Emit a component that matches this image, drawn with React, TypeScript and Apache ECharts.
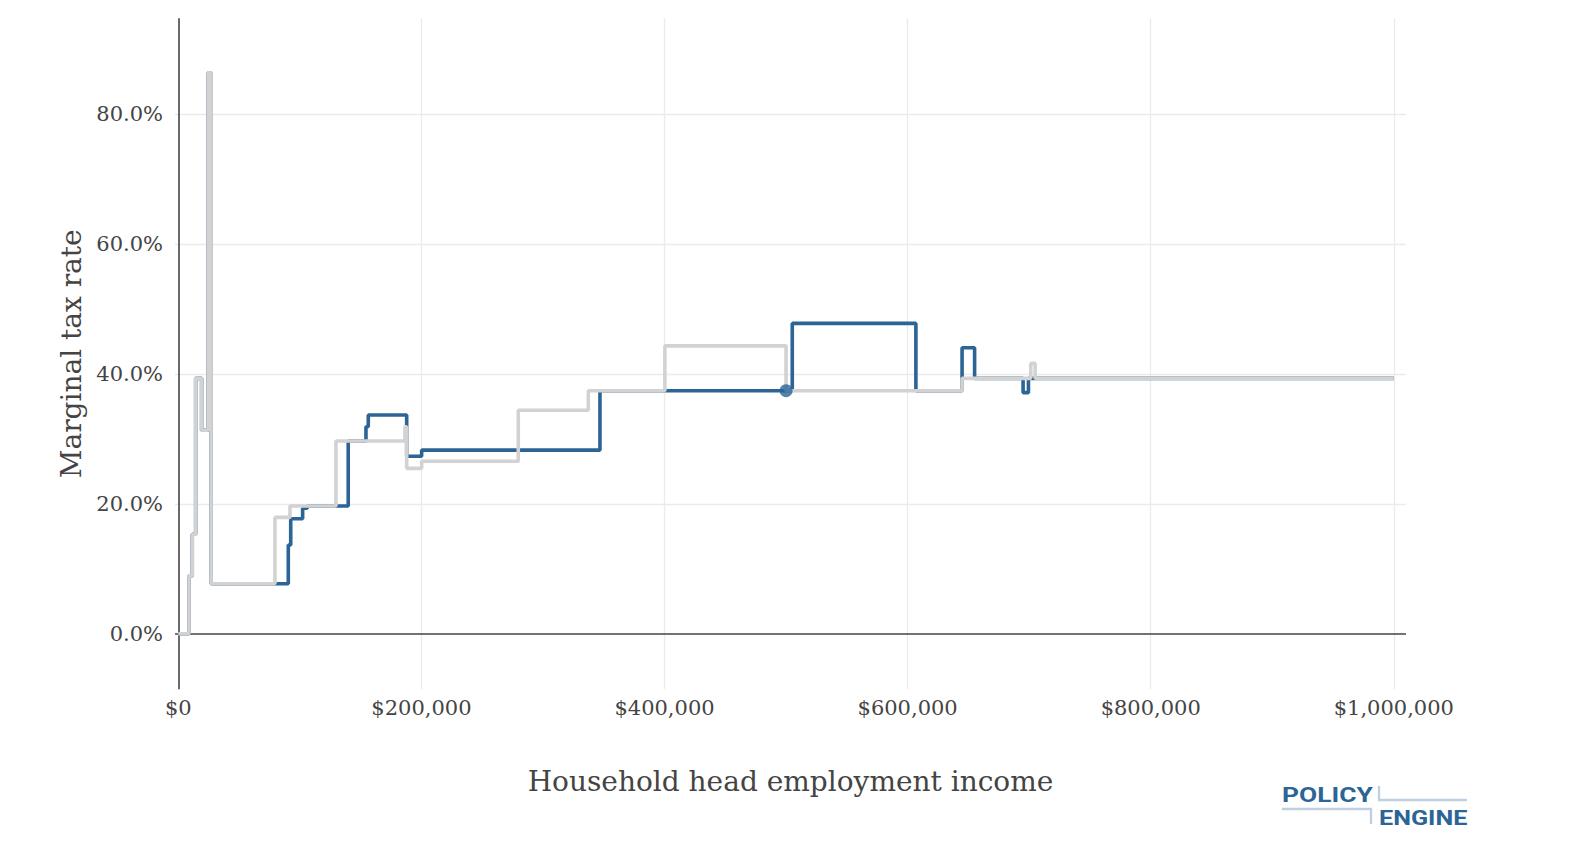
import React, { useEffect, useRef } from "react";
import * as echarts from "echarts";

// Household head employment income breakpoints ($) and marginal tax rate (%) from each breakpoint on
const grayIncome = [0, 8800, 11500, 14300, 19200, 24500, 27000, 79500, 91900, 129700, 186500, 187900, 200200, 279700, 337300, 400300, 500000, 644800, 701300, 704900, 1000000];
const grayRate = [0, 8.9, 15.3, 39.3, 31.3, 86.3, 7.7, 17.9, 19.65, 29.65, 31.85, 25.45, 26.55, 34.4, 37.4, 44.3, 37.4, 39.3, 41.6, 39.3, 39.3];

const blueIncome = [0, 8800, 11500, 14300, 19200, 24500, 27000, 90500, 92500, 102300, 106100, 139800, 154400, 156300, 187900, 200200, 346900, 505100, 606800, 644800, 655100, 695000, 699400, 1000000];
const blueRate = [0, 8.9, 15.3, 39.3, 31.3, 86.3, 7.7, 13.65, 17.7, 19.3, 19.65, 29.65, 31.85, 33.65, 27.3, 28.25, 37.4, 47.75, 37.4, 44.0, 39.3, 37.1, 39.3, 39.3];

const markerIncome = [500000];
const markerRate = [37.4];

const xGridTicks = [200000, 400000, 600000, 800000, 1000000];
const yGridTicks = [20, 40, 60, 80];

const FONT = "'DejaVu Serif', serif";
const BLUE = "#2C6496";
const GRAY = "#D2D2D2";

export default function App() {
  const ref = useRef<HTMLDivElement>(null);

  useEffect(() => {
    if (!ref.current) return;
    const chart = echarts.init(ref.current, null, { renderer: "svg" });
    const pairs = (xs: number[], ys: number[]) => xs.map((x, i) => [x, ys[i]]);

    chart.setOption({
      animation: false,
      backgroundColor: "#ffffff",
      grid: { left: 175, right: 184, top: 18.3, bottom: 164.7, containLabel: false },
      xAxis: {
        type: "value",
        min: -2700,
        max: 1010000,
        splitNumber: 5,
        axisLine: { show: false },
        axisTick: { show: false },
        splitLine: { show: false },
        axisLabel: {
          showMinLabel: false,
          showMaxLabel: false,
          color: "#444",
          fontFamily: FONT,
          fontSize: 21,
          margin: 8,
          formatter: (v: number) => (v % 200000 === 0 ? "$" + v.toLocaleString("en-US") : ""),
        },
        name: "Household head employment income",
        nameLocation: "middle",
        nameGap: 78,
        nameTextStyle: { color: "#444", fontFamily: FONT, fontSize: 28 },
      },
      yAxis: {
        type: "value",
        min: -8.55,
        max: 94.7,
        splitNumber: 5,
        axisLine: { show: false },
        axisTick: { show: false },
        splitLine: { show: false },
        axisLabel: {
          showMinLabel: false,
          showMaxLabel: false,
          color: "#444",
          fontFamily: FONT,
          fontSize: 21,
          margin: 12,
          formatter: (v: number) => (Math.abs(v % 20) < 1e-9 ? v.toFixed(1) + "%" : ""),
        },
        name: "Marginal tax rate",
        nameLocation: "middle",
        nameGap: 77,
        nameTextStyle: { color: "#444", fontFamily: FONT, fontSize: 28 },
      },
      series: [
        {
          type: "line",
          data: [],
          silent: true,
          markLine: {
            silent: true,
            z: 0,
            symbol: ["none", "none"],
            label: { show: false },
            emphasis: { disabled: true },
            lineStyle: { color: "#ebebeb", width: 1.3, type: "solid" },
            data: [
              ...xGridTicks.map((v) => ({ xAxis: v })),
              ...yGridTicks.map((v) => ({ yAxis: v })),
            ],
          },
        },
        {
          type: "line",
          data: [],
          silent: true,
          markLine: {
            silent: true,
            z: 1,
            symbol: ["none", "none"],
            label: { show: false },
            emphasis: { disabled: true },
            lineStyle: { color: "#444", width: 1.6, type: "solid" },
            data: [{ xAxis: 0 }, { yAxis: 0 }],
          },
        },
        {
          name: "Reform",
          type: "line",
          step: "end",
          z: 2,
          showSymbol: false,
          symbol: "none",
          lineStyle: { color: BLUE, width: 3.6 },
          data: pairs(blueIncome, blueRate),
        },
        {
          name: "Baseline",
          type: "line",
          step: "end",
          z: 3,
          showSymbol: false,
          symbol: "none",
          lineStyle: { color: GRAY, width: 3.6 },
          data: pairs(grayIncome, grayRate),
        },
        {
          type: "scatter",
          z: 4,
          symbolSize: 13,
          itemStyle: { color: BLUE },
          data: pairs(markerIncome, markerRate),
        },
      ],
      graphic: [
        {
          type: "text",
          x: 1282,
          y: 785,
          scaleX: 1.32,
          style: { text: "POLICY", fill: BLUE, font: "bold 20px Roboto", textVerticalAlign: "top" },
        },
        {
          type: "polyline",
          shape: { points: [[1379, 786], [1379, 800], [1467, 800]] },
          style: { stroke: "#BFCFDF", lineWidth: 2.3, fill: null },
        },
        {
          type: "polyline",
          shape: { points: [[1282, 809], [1371, 809], [1371, 824]] },
          style: { stroke: "#BFCFDF", lineWidth: 2.3, fill: null },
        },
        {
          type: "text",
          x: 1379,
          y: 808,
          scaleX: 1.26,
          style: { text: "ENGINE", fill: BLUE, font: "bold 20px Roboto", textVerticalAlign: "top" },
        },
      ],
    });

    return () => chart.dispose();
  }, []);

  return (
    <div
      ref={ref}
      style={{ position: "absolute", left: 0, top: 0, width: 1590, height: 854 }}
    />
  );
}
